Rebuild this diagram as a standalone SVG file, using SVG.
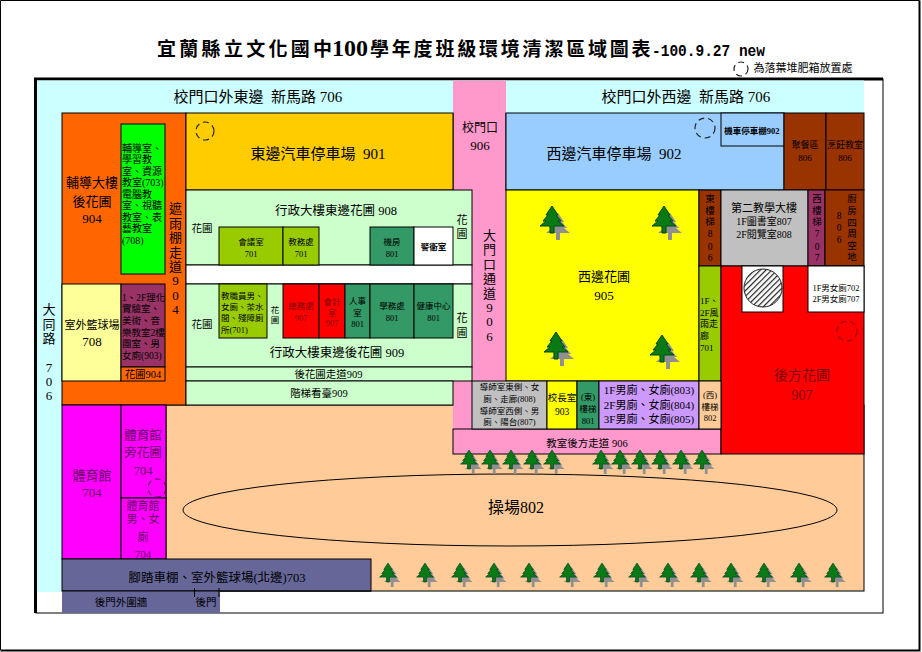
<svg xmlns="http://www.w3.org/2000/svg" width="922" height="652" viewBox="0 0 922 652">
<style>
text{font-family:"Liberation Serif","Noto Sans CJK TC",serif;fill:#000;text-anchor:middle}
.l{text-anchor:start}
.r{fill:#800000}
.m{fill:#660066}
.b{font-weight:bold}
.s85{font-size:8.5px}.s9{font-size:9px}.s95{font-size:9.5px}.s10{font-size:10px}.s105{font-size:10.5px}.s11{font-size:11px}.s12{font-size:12px}.s125{font-size:12.5px}.s13{font-size:13px}.s14{font-size:14px}.s15{font-size:15px}.s16{font-size:16px}
rect,ellipse{stroke:#000;stroke-width:1}
.n{stroke:none}
.d{fill:none;stroke:#222;stroke-width:1.2;stroke-dasharray:6 4}
</style>
<defs>
<pattern id="h" width="4" height="4" patternUnits="userSpaceOnUse" patternTransform="rotate(-45)">
<rect width="4" height="4" fill="#fff" class="n"/><rect width="4" height="1.2" fill="#222" class="n"/>
</pattern>
<g id="tf"><path d="M-2,-7H-12L-6,-12H-9L-4,-18H-6L0,-27L6,-18H4L9,-12H6L12,-7H2V0H-2Z"/></g>
<g id="tree"><use href="#tf" x="6" y="7" fill="#909090"/><use href="#tf" fill="#0a7a14" stroke="#042"/></g>
</defs>
<rect x="0.5" y="0.5" width="919" height="649.500" fill="#fff" class="n"/>
<path d="M0.5,650V0.5H919.500" fill="none" stroke="#000"/>
<path d="M919.500,0.5V650.500H0.5" fill="none" stroke="#000" stroke-width="2"/>
<rect x="36" y="79" width="847" height="534" fill="#fff" stroke-width="2"/>
<path d="M35.500,613V79H883" fill="none" stroke="#000" stroke-width="3"/>
<rect x="37" y="80.500" width="827" height="511.500" fill="#ccffff" class="n"/>
<text x="157" y="56" class="b" font-size="19" style="text-anchor:start" letter-spacing="3.3">宜蘭縣立文化國中</text>
<text x="332" y="56" class="b" font-size="23" style="text-anchor:start" textLength="36" lengthAdjust="spacingAndGlyphs">100</text>
<text x="370" y="56" class="b" font-size="19" style="text-anchor:start" letter-spacing="2.8">學年度班級環境清潔區域圖表</text>
<text x="652" y="56" class="b" font-size="16" style="text-anchor:start;font-family:'Liberation Mono',monospace" textLength="113" lengthAdjust="spacingAndGlyphs">-100.9.27 new</text>
<circle cx="741" cy="69" r="7" class="d"/>
<text x="803" y="72" class="s11">為落葉堆肥箱放置處</text>

<!-- ground -->
<rect x="166" y="405" width="698" height="186" fill="#ffcc99"/>
<rect x="453" y="80.500" width="53" height="32.500" fill="#ff99cc" class="n"/>
<rect x="453" y="113" width="53" height="341" fill="#ff99cc" class="n"/>
<rect x="453" y="429" width="268" height="25" fill="#ff99cc"/>
<line x1="453" y1="113" x2="453" y2="190" stroke="#000"/>
<line x1="506" y1="113" x2="506" y2="190" stroke="#000"/>
<rect x="62" y="113" width="124" height="292" fill="#ff6600"/>
<rect x="121" y="124" width="44" height="150" fill="#00ff00"/>
<rect x="186" y="113" width="267" height="77" fill="#ffcc00"/>
<rect x="506" y="113" width="278" height="77" fill="#99ccff"/>
<rect x="721" y="113" width="63" height="33" fill="#99ccff"/>
<rect x="784" y="113" width="42" height="77" fill="#993300"/>
<rect x="826" y="113" width="38" height="77" fill="#993300"/>
<rect x="186" y="190" width="286" height="75" fill="#ccffcc"/>
<rect x="186" y="265" width="286" height="19" fill="#fff"/>
<rect x="186" y="284" width="286" height="83" fill="#ccffcc"/>
<rect x="186" y="367" width="286" height="14" fill="#ccffcc"/>
<rect x="186" y="381" width="267" height="24" fill="#ccffcc"/>
<rect x="219" y="227" width="64" height="38" fill="#99cc00"/>
<rect x="283" y="227" width="36" height="38" fill="#99cc00"/>
<rect x="370" y="227" width="44" height="38" fill="#339966"/>
<rect x="414" y="227" width="39" height="38" fill="#fff"/>
<rect x="219" y="284" width="48" height="54" fill="#99cc00"/>
<rect x="283" y="284" width="36" height="54" fill="#ff0000"/>
<rect x="319" y="284" width="26" height="54" fill="#ff0000"/>
<rect x="345" y="284" width="25" height="54" fill="#339966"/>
<rect x="370" y="284" width="44" height="54" fill="#339966"/>
<rect x="414" y="284" width="39" height="54" fill="#339966"/>
<rect x="62" y="284" width="59" height="97" fill="#ffff99"/>
<rect x="121" y="284" width="44" height="83" fill="#993366"/>
<rect x="121" y="367" width="44" height="14" fill="#ff6600"/>
<rect x="506" y="190" width="193" height="191" fill="#ffff00"/>
<rect x="699" y="190" width="22" height="76" fill="#993300"/>
<rect x="721" y="190" width="87" height="76" fill="#c0c0c0"/>
<rect x="808" y="190" width="17" height="76" fill="#993366"/>
<rect x="825" y="190" width="39" height="76" fill="#993300"/>
<rect x="699" y="266" width="22" height="115" fill="#99cc00"/>
<rect x="721" y="266" width="143" height="188" fill="#ff0000"/>
<rect x="742" y="266" width="41" height="46" fill="#fff"/>
<rect x="808" y="266" width="56" height="46" fill="#fff"/>
<circle cx="763" cy="288" r="19" fill="url(#h)" stroke="#222"/>
<rect x="472" y="381" width="75" height="48" fill="#c0c0c0"/>
<rect x="547" y="381" width="30" height="48" fill="#ffff00"/>
<rect x="577" y="381" width="22" height="48" fill="#339966"/>
<rect x="599" y="381" width="100" height="48" fill="#cc99ff"/>
<rect x="699" y="381" width="22" height="48" fill="#ffcc99"/>
<rect x="62" y="405" width="59" height="154" fill="#ff00ff"/>
<rect x="121" y="405" width="45" height="93" fill="#ff00ff"/>
<rect x="121" y="498" width="45" height="61" fill="#ff00ff"/>
<rect x="62" y="559" width="309" height="32" fill="#666699"/>
<rect x="62" y="591" width="158" height="22" fill="#666699" class="n"/>
<line x1="62" y1="591" x2="371" y2="591" stroke="#000"/>
<line x1="194.500" y1="588" x2="194.500" y2="597" stroke="#000"/>
<line x1="219" y1="588" x2="219" y2="597" stroke="#000"/>
<ellipse cx="510" cy="510" rx="327" ry="36" fill="none" stroke="#3a2a10" stroke-width="1.3"/>
<circle cx="205" cy="131" r="9" class="d"/>
<circle cx="705" cy="128" r="10" class="d"/>
<circle cx="847" cy="331" r="10" class="d" style="stroke:#900"/>
<circle cx="157" cy="488" r="9" class="d" style="stroke:#606"/>

<!-- trees -->
<use href="#tree" x="552" y="233"/><use href="#tree" x="664" y="233"/><use href="#tree" x="556" y="359"/><use href="#tree" x="662" y="362"/>
<use href="#tree" transform="translate(469 469) scale(.7)"/><use href="#tree" transform="translate(490 469) scale(.7)"/><use href="#tree" transform="translate(511 469) scale(.7)"/><use href="#tree" transform="translate(532 469) scale(.7)"/><use href="#tree" transform="translate(552 469) scale(.7)"/>
<use href="#tree" transform="translate(601 469) scale(.7)"/><use href="#tree" transform="translate(620 469) scale(.7)"/><use href="#tree" transform="translate(640 469) scale(.7)"/><use href="#tree" transform="translate(660 469) scale(.7)"/><use href="#tree" transform="translate(681 469) scale(.7)"/><use href="#tree" transform="translate(702 469) scale(.7)"/>
<use href="#tree" transform="translate(388 582) scale(.7)"/><use href="#tree" transform="translate(425 582) scale(.7)"/><use href="#tree" transform="translate(460 582) scale(.7)"/><use href="#tree" transform="translate(494 582) scale(.7)"/><use href="#tree" transform="translate(529 582) scale(.7)"/><use href="#tree" transform="translate(568 582) scale(.7)"/><use href="#tree" transform="translate(602 582) scale(.7)"/><use href="#tree" transform="translate(637 582) scale(.7)"/><use href="#tree" transform="translate(668 582) scale(.7)"/><use href="#tree" transform="translate(699 582) scale(.7)"/><use href="#tree" transform="translate(731 582) scale(.7)"/><use href="#tree" transform="translate(764 582) scale(.7)"/><use href="#tree" transform="translate(799 582) scale(.7)"/><use href="#tree" transform="translate(833 582) scale(.7)"/>

<!-- labels -->
<text x="258" y="102" class="s15" xml:space="preserve">校門口外東邊  新馬路 706</text>
<text x="686" y="102" class="s15" xml:space="preserve">校門口外西邊  新馬路 706</text>
<text x="480" y="132" class="s12">校門口</text><text x="480" y="150" class="s13">906</text>
<text x="318" y="159" class="s15" xml:space="preserve">東邊汽車停車場  901</text>
<text x="614" y="159" class="s15" xml:space="preserve">西邊汽車停車場  902</text>
<text x="752" y="134" class="s85 b">機車停車棚902</text>
<text x="805" y="148" class="s9">聚餐區</text><text x="805" y="161" class="s9">806</text>
<text x="845" y="148" class="s9">烹飪教室</text><text x="845" y="161" class="s9">806</text>
<text x="92" y="187" class="s13">輔導大樓</text><text x="92" y="206" class="s13">後花圃</text><text x="92" y="223" class="s13">904</text>
<g class="s10">
<text x="122" y="152" class="l">輔導室、</text><text x="122" y="163" class="l">學習教</text><text x="122" y="175" class="l">室、資源</text><text x="122" y="186" class="l">教室(703)</text><text x="122" y="198" class="l">電腦教</text><text x="122" y="209" class="l">室、視聽</text><text x="122" y="221" class="l">教室、表</text><text x="122" y="232" class="l">藝教室</text><text x="122" y="244" class="l">(708)</text>
</g>
<g class="s13">
<text x="175.500" y="213">遮</text><text x="175.500" y="228">雨</text><text x="175.500" y="242">棚</text><text x="175.500" y="257">走</text><text x="175.500" y="271">道</text><text x="175.500" y="285">9</text><text x="175.500" y="300">0</text><text x="175.500" y="314">4</text>
<text x="49" y="314">大</text><text x="49" y="329">同</text><text x="49" y="343">路</text><text x="49" y="372">7</text><text x="49" y="386">0</text><text x="49" y="400">6</text>
<text x="489.500" y="240">大</text><text x="489.500" y="254">門</text><text x="489.500" y="269">口</text><text x="489.500" y="283">通</text><text x="489.500" y="298">道</text><text x="489.500" y="312">9</text><text x="489.500" y="326">0</text><text x="489.500" y="341">6</text>
</g>
<text x="92" y="329" class="s11">室外籃球場</text><text x="92" y="346" class="s13">708</text>
<g class="s95">
<text x="122" y="301" class="l">1、2F理化</text><text x="122" y="312" class="l">實驗室、</text><text x="122" y="324" class="l">美術、音</text><text x="122" y="336" class="l">樂教室2樓</text><text x="122" y="347" class="l">團室、男</text><text x="122" y="359" class="l">女廁(903)</text>
</g>
<text x="143" y="378" class="s105">花圃904</text>
<text x="336" y="215" class="s125">行政大樓東邊花圃 908</text>
<text x="202" y="232" class="s105">花圃</text><text x="202" y="328" class="s105">花圃</text>
<text x="462" y="224" class="s11">花</text><text x="462" y="238" class="s11">圃</text><text x="462" y="322" class="s11">花</text><text x="462" y="337" class="s11">圃</text>
<g class="s85">
<text x="251" y="245">會議室</text><text x="251" y="257">701</text>
<text x="301" y="245">教務處</text><text x="301" y="257">701</text>
<text x="392" y="245">機房</text><text x="392" y="257">801</text>
<text x="433.500" y="250" class="b">警衛室</text>
<text x="221" y="299" class="l">教職員男、</text><text x="221" y="310" class="l">女廁、茶水</text><text x="221" y="321" class="l">間、殘障廁</text><text x="221" y="333" class="l">所(701)</text>
<text x="275" y="313">花</text><text x="275" y="323">圃</text>
<text x="301" y="309" class="r">總務處</text><text x="301" y="321" class="r">907</text>
<text x="332" y="305" class="r">會計</text><text x="332" y="316" class="r">室</text><text x="332" y="326" class="r">907</text>
<text x="357.500" y="304">人事</text><text x="357.500" y="316">室</text><text x="357.500" y="327">801</text>
<text x="392" y="309">學務處</text><text x="392" y="321">801</text>
<text x="433.500" y="309">健康中心</text><text x="433.500" y="321">801</text>
<text x="509.500" y="390">導師室東側、女</text><text x="509.500" y="402">廁、走廊(808)</text><text x="509.500" y="414">導師室西側、男</text><text x="509.500" y="425">廁、陽台(807)</text>
<text x="588" y="400">(東)</text><text x="588" y="412">樓梯</text><text x="588" y="424">801</text>
<text x="710" y="398">(西)</text><text x="710" y="410">樓梯</text><text x="710" y="421">802</text>
<text x="836" y="291">1F男女廁702</text><text x="836" y="302">2F男女廁707</text>
</g>
<text x="337" y="357" class="s125">行政大樓東邊後花圃 909</text>
<text x="328.500" y="378" class="s105">後花圃走道909</text>
<text x="319" y="397" class="s105">階梯看臺909</text>
<text x="562" y="401" class="s95">校長室</text><text x="562" y="415" class="s95">903</text>
<text x="649" y="394" class="s11">1F男廁、女廁(803)</text><text x="649" y="409" class="s11">2F男廁、女廁(804)</text><text x="649" y="423" class="s11">3F男廁、女廁(805)</text>
<text x="587" y="447" class="s105">教室後方走道 906</text>
<text x="604" y="281" class="s13">西邊花圃</text><text x="604" y="300" class="s13">905</text>
<g class="s95">
<text x="710" y="202">東</text><text x="710" y="214">樓</text><text x="710" y="225">梯</text><text x="710" y="237">8</text><text x="710" y="250">0</text><text x="710" y="261">6</text>
<text x="817" y="202">西</text><text x="817" y="214">樓</text><text x="817" y="225">梯</text><text x="817" y="237">7</text><text x="817" y="250">0</text><text x="817" y="261">7</text>
<text x="852" y="202">廚</text><text x="852" y="214">房</text><text x="852" y="226">四</text><text x="852" y="237">周</text><text x="852" y="249">空</text><text x="852" y="260">地</text>
<text x="839" y="219">8</text><text x="839" y="231">0</text><text x="839" y="243">6</text>
</g>
<text x="764" y="212" class="s11">第二教學大樓</text><text x="764" y="225" class="s10">1F圖書室807</text><text x="764" y="238" class="s10">2F閱覽室808</text>
<g class="s9">
<text x="700" y="304" class="l">1F、</text><text x="700" y="316" class="l">2F風</text><text x="700" y="327" class="l">雨走</text><text x="700" y="339" class="l">廊</text><text x="700" y="351" class="l">701</text>
</g>
<text x="802" y="380" class="s14 r">後方花圃</text><text x="802" y="400" class="s14 r">907</text>
<text x="516" y="513" class="s16">操場802</text>
<text x="92" y="480" class="s13 m">體育館</text><text x="92" y="497" class="s13 m">704</text>
<text x="143" y="440" class="s125 m">體育館</text><text x="143" y="457" class="s125 m">旁花圃</text><text x="143" y="475" class="s125 m">704</text>
<text x="143" y="510" class="s11 m">體育館</text><text x="143" y="523" class="s11 m">男、女</text><text x="143" y="541" class="s11 m">廁</text><text x="143" y="558" class="s11 m">704</text>
<text x="217" y="582" class="s125">腳踏車棚、室外籃球場(北邊)703</text>
<text x="121" y="606" class="s105">後門外圍牆</text><text x="206" y="606" class="s105">後門</text>
</svg>
